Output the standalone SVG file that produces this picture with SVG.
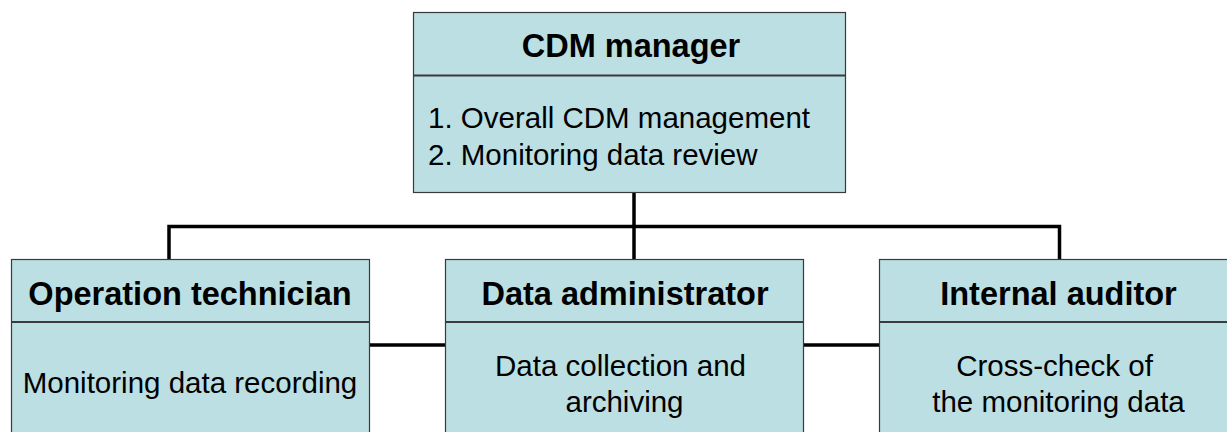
<svg xmlns="http://www.w3.org/2000/svg" width="1227" height="432" viewBox="0 0 1227 432">
  <style>
    .box { fill: #bbdfe3; stroke: #3a3a3a; stroke-width: 1.2; }
    .div { stroke: #3a3a3a; stroke-width: 2; }
    .wire { stroke: #000; stroke-width: 3.5; fill: none; stroke-linecap: butt; }
    .title { font-family: "Liberation Sans", Arial, sans-serif; font-weight: bold; font-size: 32.5px; fill: #000; text-anchor: middle; }
    .body { font-family: "Liberation Sans", Arial, sans-serif; font-size: 29.5px; fill: #000; }
    .mid { text-anchor: middle; }
  </style>
  <rect width="1227" height="432" fill="#fff"/>

  <!-- connectors -->
  <g id="connectors">
    <path class="wire" d="M634 192 V259"/>
    <path class="wire" d="M169 259 V226.5 H1059.5 V259"/>
    <path class="wire" d="M369 345 H445"/>
    <path class="wire" d="M804 345 H879"/>
  </g>

  <!-- CDM manager -->
  <g id="cdm-manager">
    <rect class="box" x="413.5" y="12.5" width="432" height="180"/>
    <line class="div" x1="413.5" y1="75.5" x2="845.5" y2="75.5"/>
    <text class="title" x="631" y="57">CDM manager</text>
    <text class="body" x="428" y="128">1. Overall CDM management</text>
    <text class="body" x="428" y="165">2. Monitoring data review</text>
  </g>

  <!-- Operation technician -->
  <g id="operation-technician">
    <rect class="box" x="11.5" y="259.5" width="358" height="190"/>
    <line class="div" x1="11.5" y1="322" x2="369.5" y2="322"/>
    <text class="title" x="190" y="305">Operation technician</text>
    <text class="body mid" x="190" y="393">Monitoring data recording</text>
  </g>

  <!-- Data administrator -->
  <g id="data-administrator">
    <rect class="box" x="445.5" y="259.5" width="358" height="190"/>
    <line class="div" x1="445.5" y1="322" x2="803.5" y2="322"/>
    <text class="title" x="625" y="305">Data administrator</text>
    <text class="body mid" x="620.5" y="376">Data collection and</text>
    <text class="body mid" x="624.5" y="412">archiving</text>
  </g>

  <!-- Internal auditor -->
  <g id="internal-auditor">
    <rect class="box" x="879.5" y="259.5" width="370" height="190"/>
    <line class="div" x1="879.5" y1="322" x2="1249.5" y2="322"/>
    <text class="title" x="1058.5" y="305">Internal auditor</text>
    <text class="body mid" x="1054.5" y="376">Cross-check of</text>
    <text class="body mid" x="1058.5" y="412">the monitoring data</text>
  </g>
</svg>
